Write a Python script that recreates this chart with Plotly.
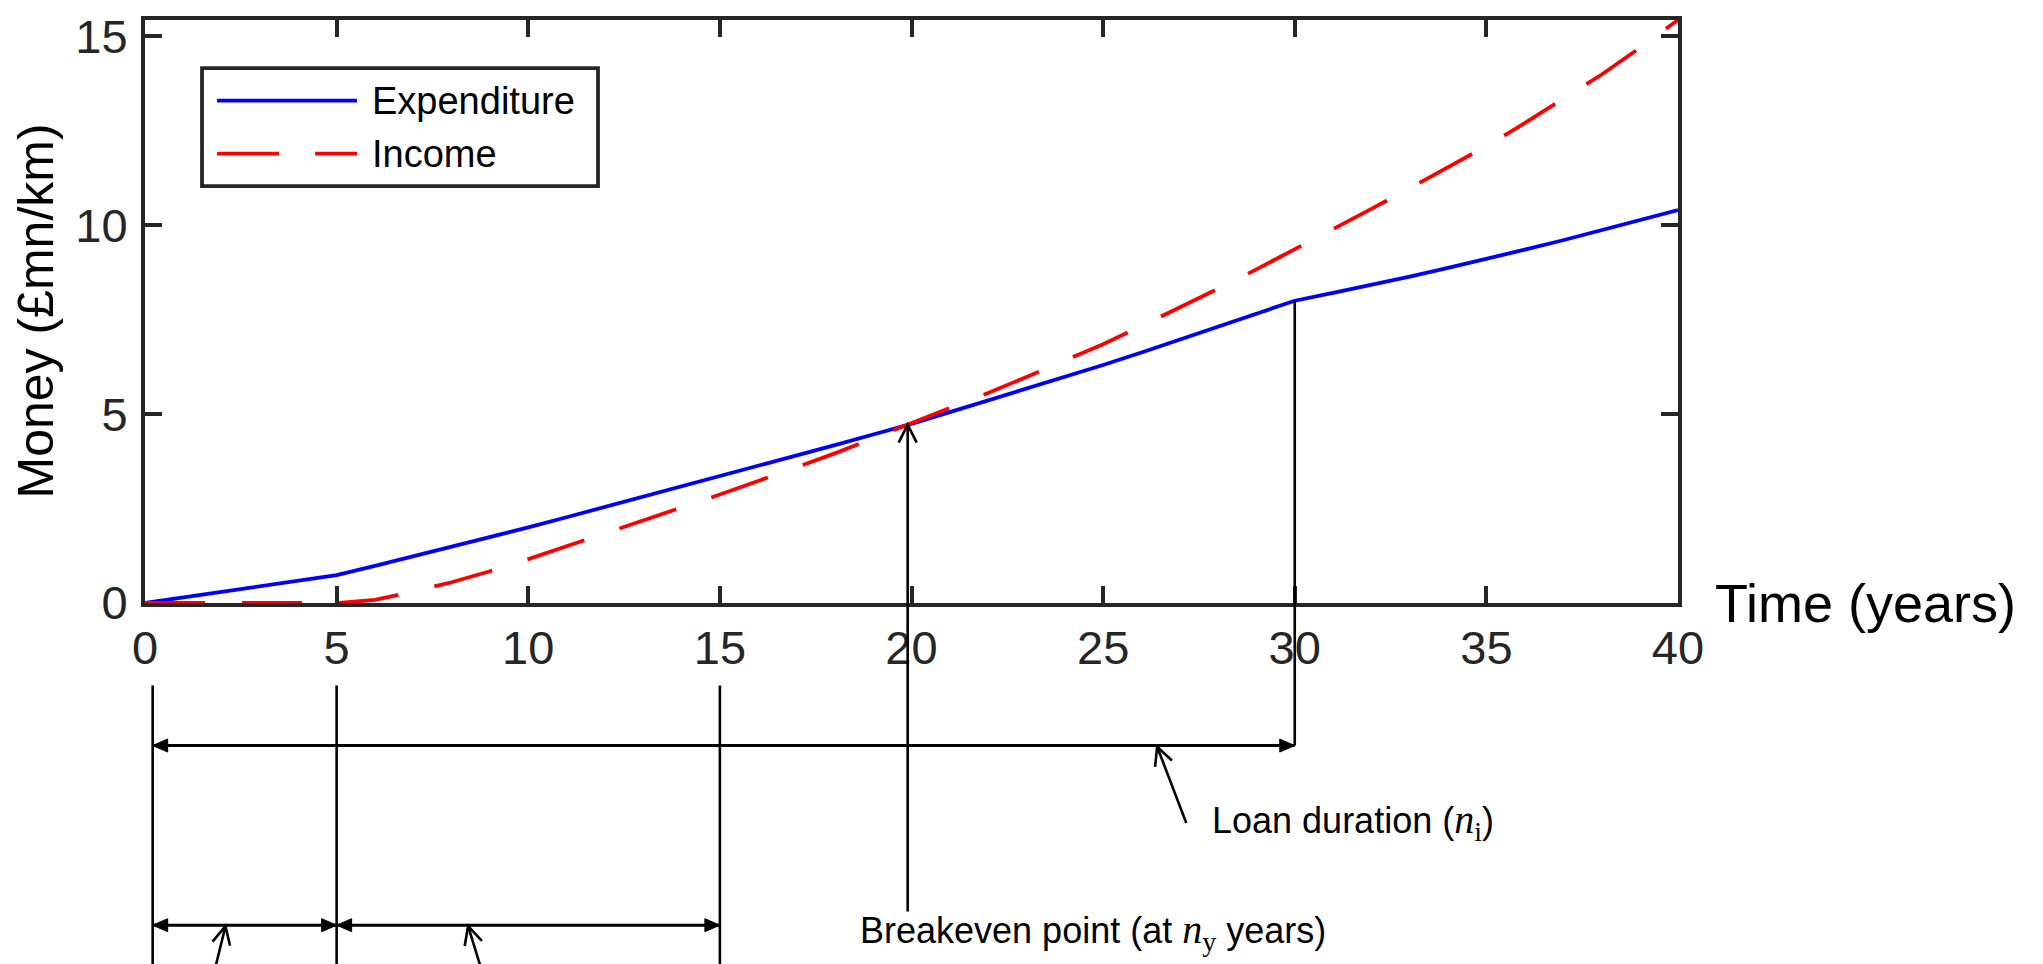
import math
import plotly.graph_objects as go

# ---------------- data ----------------
years = list(range(0, 41))
expenditure = [0.0, 0.147, 0.294, 0.44, 0.59, 0.736, 0.98, 1.23, 1.48, 1.74, 2.0,
               2.27, 2.54, 2.81, 3.08, 3.36, 3.63, 3.90, 4.18, 4.46, 4.74,
               5.05, 5.36, 5.67, 5.98, 6.3, 6.63, 6.97, 7.31, 7.65, 8.0,
               8.21, 8.42, 8.64, 8.87, 9.1, 9.35, 9.6, 9.86, 10.13, 10.4]
income = [0, 0, 0, 0, 0, 0, 0.08, 0.3, 0.55, 0.84, 1.16,
          1.5, 1.84, 2.18, 2.52, 2.87, 3.23, 3.59, 3.96, 4.36, 4.76,
          5.15, 5.56, 5.98, 6.41, 6.85, 7.33, 7.82, 8.32, 8.83, 9.36,
          9.89, 10.43, 10.98, 11.53, 12.09, 12.7, 13.33, 13.98, 14.69, 15.43]

x_ticks = [0, 5, 10, 15, 20, 25, 30, 35, 40]
y_ticks = [0, 5, 10, 15]

breakeven_year = 19.9
breakeven_money = 4.72
loan_end_year = 30
loan_end_money = expenditure[30]
period_marks = [0.2, 5, 15]          # vertical guide lines below the axis
loan_start, loan_end = 0.2, 30
construction_span = (0.2, 5)
operation_span = (5, 15)
loan_pointer = (26.41, 27.17)       # tip year, tail year
small_pointers = [(2.1, 1.67), (8.43, 8.97)]
loan_label_year = 27.78
breakeven_label_year = 24.73

FONT = "Liberation Sans, Arial, Helvetica, sans-serif"
AXC = "#262626"

# page body has an 8 px margin; compensate so the plot sits where the reference has it
BODY = 8
W, H = 2043 - BODY, 964 - BODY
PLOT_L, PLOT_R, PLOT_T, PLOT_B = 145, 1678, 10, 603   # page pixels
PX_PER_YEAR = (PLOT_R - PLOT_L) / 40.0

fig = go.Figure()
fig.add_trace(go.Scatter(x=years, y=expenditure, mode="lines", name="Expenditure",
                         line=dict(color="#0000ff", width=3.8)))
fig.add_trace(go.Scatter(x=years, y=income, mode="lines", name="Income",
                         line=dict(color="#ff0000", width=3.8, dash="60px,37px")))

PH = PLOT_B - PLOT_T
def py(pixel_y):
    """page pixel row -> paper y"""
    return (PLOT_B - pixel_y) / PH

shapes = []
annotations = []
BLACK = dict(color="black", width=2.6)

def vline_paper(x, p0, p1, width=2.6):
    shapes.append(dict(type="line", xref="x", yref="paper", x0=x, x1=x,
                       y0=py(p0), y1=py(p1), line=dict(color="black", width=width)))

def head(xanchor, xref, yanchor, yref, ux, uy, length, half, filled):
    # (ux, uy): unit direction of the arrow (y up), tip at anchor
    nx, ny = -uy, ux
    bx, by = -ux * length, -uy * length
    p1 = (bx + nx * half, by + ny * half)
    p2 = (bx - nx * half, by - ny * half)
    if filled:
        path = f"M0,0 L{p1[0]:.2f},{p1[1]:.2f} L{p2[0]:.2f},{p2[1]:.2f} Z"
        line = dict(color="black", width=1)
        fill = "black"
    else:
        path = f"M{p1[0]:.2f},{p1[1]:.2f} L0,0 L{p2[0]:.2f},{p2[1]:.2f}"
        line = dict(color="black", width=2.6)
        fill = "rgba(0,0,0,0)"
    shapes.append(dict(type="path", xref=xref, yref=yref, xsizemode="pixel",
                       ysizemode="pixel", xanchor=xanchor, yanchor=yanchor,
                       path=path, line=line, fillcolor=fill))

# custom legend (long line samples as in the reference)
shapes.append(dict(type="rect", xref="x domain", yref="y domain",
                   x0=0.0372, x1=0.2955, y0=py(179), y1=py(59),
                   line=dict(color=AXC, width=3.8), fillcolor="white", layer="above"))
shapes.append(dict(type="line", xref="x domain", yref="y domain",
                   x0=0.047, x1=0.1383, y0=py(92), y1=py(92),
                   line=dict(color="#0000ff", width=3.8)))
shapes.append(dict(type="line", xref="x domain", yref="y domain",
                   x0=0.047, x1=0.1383, y0=py(146), y1=py(146),
                   line=dict(color="#ff0000", width=3.8, dash="62px,36px")))
for name, yy in [("Expenditure", py(92)), ("Income", py(146))]:
    annotations.append(dict(text=name, xref="x domain", yref="y domain",
                            x=0.1468, y=yy, xanchor="left", yanchor="middle",
                            showarrow=False, font=dict(family=FONT, size=38, color="black")))

# vertical guide lines below axis
for yr in period_marks:
    vline_paper(yr, 687, 980)

# line from end of loan (on expenditure curve) down to loan arrow
shapes.append(dict(type="line", xref="x", yref="y", x0=loan_end_year, x1=loan_end_year,
                   y0=0, y1=loan_end_money, line=BLACK))
vline_paper(loan_end_year, PLOT_B, 748)

# breakeven arrow (from below the axes up to the crossing point)
shapes.append(dict(type="line", xref="x", yref="y", x0=breakeven_year, x1=breakeven_year,
                   y0=0, y1=breakeven_money, line=BLACK))
vline_paper(breakeven_year, PLOT_B, 916.7)
head(breakeven_year, "x", breakeven_money, "y", 0, 1, 18, 9, False)

# double-headed arrows
def dbl_arrow(x0, x1, prow):
    shapes.append(dict(type="line", xref="x", yref="paper", x0=x0, x1=x1,
                       y0=py(prow), y1=py(prow), line=dict(color="black", width=3)))
    head(x1, "x", py(prow), "paper", 1, 0, 15, 6.5, True)
    head(x0, "x", py(prow), "paper", -1, 0, 15, 6.5, True)

dbl_arrow(loan_start, loan_end, 748)
dbl_arrow(construction_span[0], construction_span[1], 930.7)
dbl_arrow(operation_span[0], operation_span[1], 930.7)

# pointer arrows (open heads)
def pointer(tip_x, tip_row, tail_x, tail_row):
    shapes.append(dict(type="line", xref="x", yref="paper", x0=tail_x, x1=tip_x,
                       y0=py(tail_row), y1=py(tip_row), line=BLACK))
    dx = (tip_x - tail_x) * PX_PER_YEAR
    dy = tail_row - tip_row          # upward positive
    n = math.hypot(dx, dy)
    head(tip_x, "x", py(tip_row), "paper", dx / n, dy / n, 18, 9, False)

pointer(loan_pointer[0], 749.3, loan_pointer[1], 826.7)
for tip, tail in small_pointers:
    pointer(tip, 931.7, tail, 1000)

MATH = "font-family:'Liberation Serif','DejaVu Serif',serif;font-size:40px"
annotations.append(dict(
    text=f"Loan duration (<span style=\"{MATH}\"><i>n</i><sub>i</sub></span>)",
    x=loan_label_year, y=py(826), xref="x", yref="paper", xanchor="left",
    yanchor="middle", showarrow=False, font=dict(family=FONT, size=36, color="black")))
annotations.append(dict(
    text=f"Breakeven point (at <span style=\"{MATH}\"><i>n</i><sub>y</sub></span> years)",
    x=breakeven_label_year, y=py(938), xref="x", yref="paper", xanchor="center",
    yanchor="middle", showarrow=False, font=dict(family=FONT, size=36, color="black")))

# axis titles
annotations.append(dict(text="Time (years)", xref="paper", yref="paper", x=1, y=0,
                        xshift=35, xanchor="left", yanchor="middle", showarrow=False,
                        font=dict(family=FONT, size=54, color="black")))
annotations.append(dict(text="Money (£mn/km)", xref="paper", yref="paper", x=0, y=0.5,
                        xshift=-110, xanchor="center", yanchor="middle", textangle=-90,
                        showarrow=False, font=dict(family=FONT, size=50, color="black")))

axis_common = dict(showgrid=False, zeroline=False, showline=True, linecolor=AXC,
                   linewidth=4, mirror="allticks", ticks="inside", ticklen=17,
                   tickwidth=4, tickcolor=AXC, layer="below traces",
                   ticklabeloverflow="allow",
                   tickfont=dict(family=FONT, size=47, color=AXC))

fig.update_layout(
    width=W, height=H,
    margin=dict(l=PLOT_L - BODY, r=W - (PLOT_R - BODY), t=PLOT_T - BODY,
                b=H - (PLOT_B - BODY), pad=0),
    paper_bgcolor="white", plot_bgcolor="white",
    showlegend=False,
    xaxis=dict(range=[0, 40], tickvals=x_ticks, ticktext=[str(v) for v in x_ticks],
               ticklabelstandoff=1, **axis_common),
    yaxis=dict(range=[0, 15.43], tickvals=y_ticks, ticktext=[str(v) for v in y_ticks],
               ticklabelstandoff=4, **axis_common),
    shapes=shapes,
    annotations=annotations,
)

fig.write_html("out.html")
